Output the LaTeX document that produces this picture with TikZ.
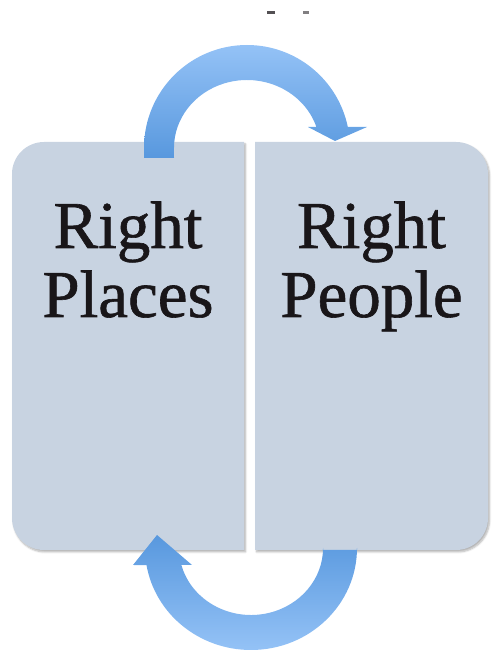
\documentclass[tikz,border=0pt]{standalone}
\usepackage{fontspec}
\setmainfont{Liberation Serif}
\newfontfamily\labelfont[FakeBold=0.9]{Liberation Serif}
\usetikzlibrary{shadows.blur}
\definecolor{boxfill}{RGB}{200,211,225}
\definecolor{arrlight}{RGB}{148,194,246}
\definecolor{arrdark}{RGB}{88,152,222}
\definecolor{textcol}{RGB}{25,22,25}
\tikzset{
  panel/.style={fill=boxfill, blur shadow={shadow xshift=1.5pt, shadow yshift=-2pt, shadow blur steps=6, shadow opacity=30}},
  toparrow/.style={top color=arrlight, bottom color=arrdark, draw=none},
  botarrow/.style={top color=arrdark, bottom color=arrlight, draw=none},
  label/.style={anchor=base, text=textcol, font=\labelfont\fontsize{67}{70}\selectfont, inner sep=0pt}
}
\begin{document}
\begin{tikzpicture}[x=1pt,y=1pt]
\useasboundingbox (0,0) rectangle (491,654);
% panels
\path[panel] (244,104) -- (44,104) arc[start angle=270,end angle=180,radius=32]
  -- (12,480) arc[start angle=180,end angle=90,radius=32] -- (244,512) -- cycle;
\path[panel] (255,104) -- (456,104) arc[start angle=-90,end angle=0,radius=32]
  -- (488,480) arc[start angle=0,end angle=90,radius=32] -- (255,512) -- cycle;
% top arrow
\path[toparrow] (144,496) -- (144,506) arc[start angle=180,end angle=11.8,x radius=103,y radius=103]
  -- (367,527) -- (335,513) -- (308,527) -- (316.4,527)
  arc[start angle=18,end angle=180,x radius=73,y radius=68] -- (174,496) -- cycle;
% bottom arrow
\path[botarrow] (357,104) -- (357,106) arc[start angle=360,end angle=189.6,x radius=106,y radius=102]
  -- (133,89) -- (157,119) -- (192,89) -- (181.4,89)
  arc[start angle=194.7,end angle=360,x radius=72,y radius=67] -- (323,104) -- cycle;
% labels
\node[label] (l1) at (128,406) {Right};
\node[label] (l2) at (128,337) {Places};
\node[label] (r1) at (371.5,406) {Right};
\node[label] (r2) at (371.5,337) {People};
% cropped marks at top
\fill[textcol!75] (267,640) rectangle (275,642.5);
\fill[textcol!55] (303,640) rectangle (309,642.5);
\end{tikzpicture}
\end{document}
